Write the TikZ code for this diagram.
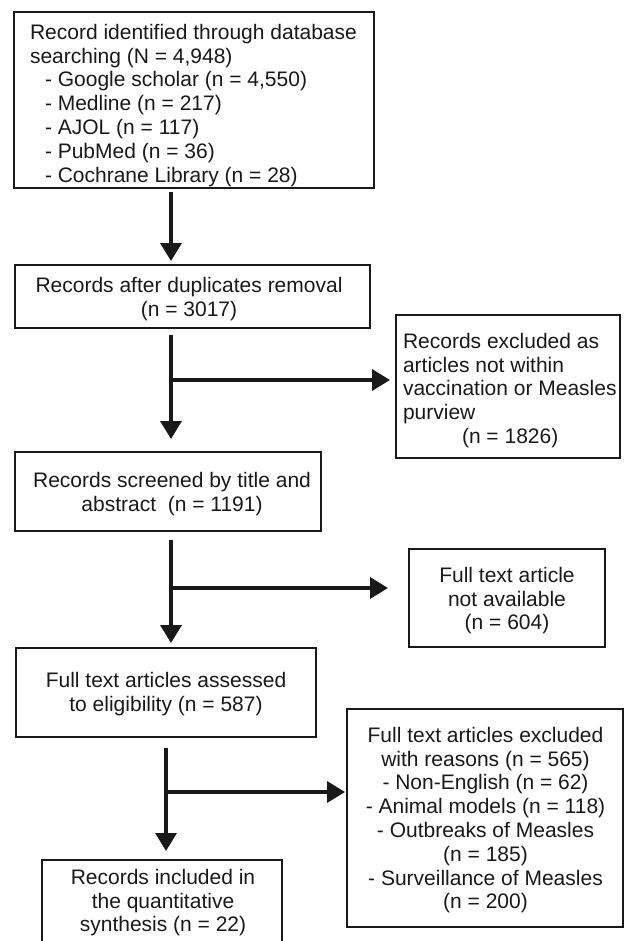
\documentclass[tikz,border=0pt]{standalone}
\usepackage{fontspec}
\setmainfont{Liberation Sans}
\usetikzlibrary{arrows.meta}
\begin{document}
\begin{tikzpicture}[x=1pt,y=-1pt,
  box/.style={draw=black!90, line width=1.3pt, inner sep=0pt, outer sep=0pt, anchor=north west},
  txt/.style={inner sep=0pt, outer sep=0pt, font=\fontsize{21}{23.8}\selectfont, text=black!90},
  arr/.style={line width=3.5pt, draw=black!90, -{Triangle[length=18pt,width=21pt]}}]
\path[use as bounding box, clip] (0,0) rectangle (630,941);

% boxes
\node[box, minimum width=360pt, minimum height=176pt] (b1) at (14,12) {};
\node[box, minimum width=355pt, minimum height=63pt]  (b2) at (15,265) {};
\node[box, minimum width=224pt, minimum height=143pt] (b3) at (396,315) {};
\node[box, minimum width=306pt, minimum height=79pt]  (b4) at (15,452) {};
\node[box, minimum width=196pt, minimum height=98pt]  (b5) at (409,549) {};
\node[box, minimum width=300pt, minimum height=89pt]  (b6) at (16,648) {};
\node[box, minimum width=240pt, minimum height=110pt] (b7) at (42,860) {};
\node[box, minimum width=276pt, minimum height=218pt] (b8) at (347,709) {};

% texts
\node[txt, anchor=north west, align=left] (t1) at (30,24)
  {Record identified through database\\searching (N = 4,948)\\
   \hspace*{15pt}- Google scholar (n = 4,550)\\
   \hspace*{15pt}- Medline (n = 217)\\
   \hspace*{15pt}- AJOL (n = 117)\\
   \hspace*{15pt}- PubMed (n = 36)\\
   \hspace*{15pt}- Cochrane Library (n = 28)};
\node[txt, anchor=north, align=center] (t2) at (189,277)
  {Records after duplicates removal\\(n = 3017)};
\node[txt, anchor=north west, align=left] (t3) at (403,333)
  {Records excluded as\\articles not within\\vaccination or Measles\\purview\\\hspace*{59pt}(n = 1826)};
\node[txt, anchor=north, align=center] (t4) at (172,472)
  {Records screened by title and\\abstract\ \ (n = 1191)};
\node[txt, anchor=north, align=center] (t5) at (507,567)
  {Full text article\\not available\\(n = 604)};
\node[txt, anchor=north, align=center] (t6) at (166,672)
  {Full text articles assessed\\to eligibility (n = 587)};
\node[txt, anchor=north, align=center] (t7) at (163,869)
  {Records included in\\the quantitative\\synthesis (n = 22)};
\node[txt, anchor=north, align=center] (t8) at (485.5,727)
  {Full text articles excluded\\with reasons (n = 565)\\- Non-English (n = 62)\\
   - Animal models (n = 118)\\- Outbreaks of Measles\\(n = 185)\\
   - Surveillance of Measles\\(n = 200)};

% connector columns and junctions
\coordinate (c1) at (171,0);
\coordinate (c2) at (166,0);
\coordinate (j1) at (171,380);
\coordinate (j2) at (171,588);
\coordinate (j3) at (166,792);

\draw[arr, shorten <=4pt, shorten >=4pt] (c1 |- b1.south) -- (c1 |- b2.north);

\draw[arr, shorten <=7pt, shorten >=13pt] (c1 |- b2.south) -- (c1 |- b4.north);
\draw[arr, shorten >=6pt] (j1) -- (j1 -| b3.west);

\draw[arr, shorten <=9pt, shorten >=5pt] (c1 |- b4.south) -- (c1 |- b6.north);
\draw[arr, shorten >=21pt] (j2) -- (j2 -| b5.west);

\draw[arr, shorten <=11pt, shorten >=9pt] (c2 |- b6.south) -- (c2 |- b7.north);
\draw[arr, shorten >=2pt] (j3) -- (j3 -| b8.west);
\end{tikzpicture}
\end{document}
